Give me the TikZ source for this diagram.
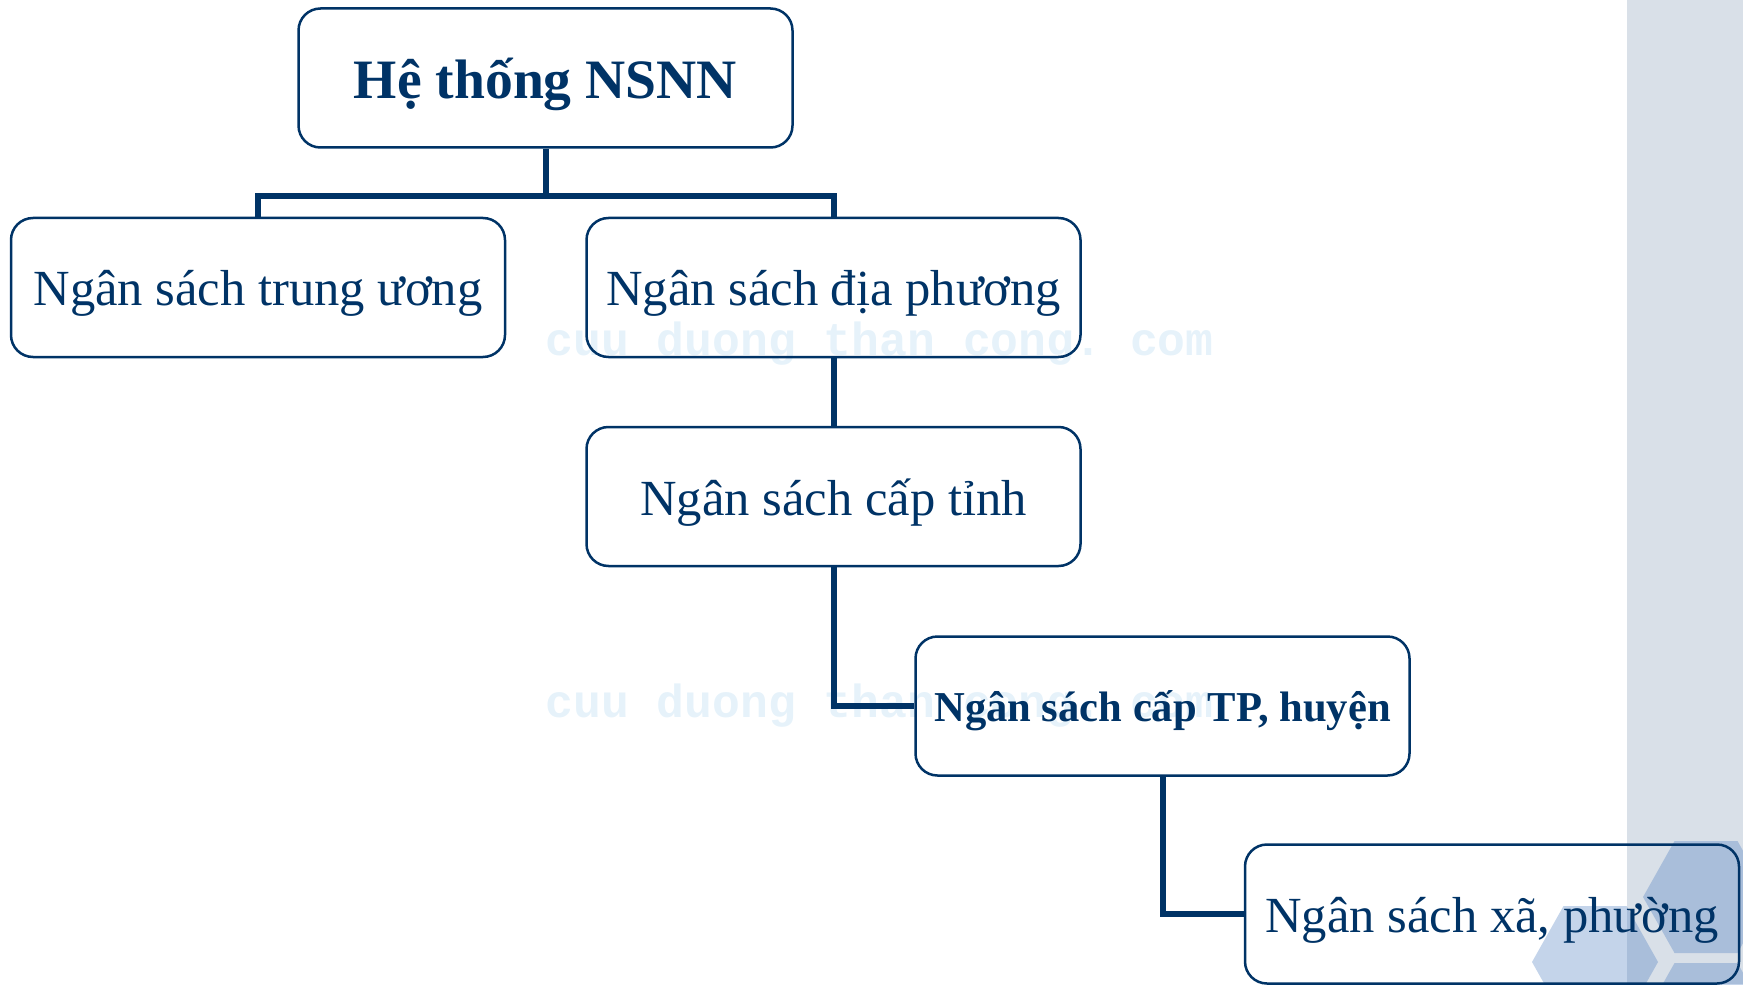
\documentclass[tikz,border=0pt]{standalone}
\usepackage{fontspec}
\setmainfont{Liberation Serif}
\setmonofont{Liberation Mono}
\definecolor{navy}{RGB}{0,51,102}
\definecolor{band}{RGB}{217,224,232}
\definecolor{hexblue}{RGB}{70,120,189}
\definecolor{wmark}{RGB}{230,242,250}
\newcommand{\myhex}[2]{%
  \fill[hexblue,fill opacity=0.32] (#1-63,#2) -- (#1-31.5,#2-56) -- (#1+31.5,#2-56) -- (#1+63,#2) -- (#1+31.5,#2+56) -- (#1-31.5,#2+56) -- cycle;}
\tikzset{
  box/.style={draw=navy,line width=1.25pt,rounded corners=11pt,minimum width=247pt,minimum height=69.5pt,inner sep=0pt,text=navy,font=\fontsize{25.3}{30}\selectfont},
  lbl/.style={text=navy,inner sep=0pt},
  conn/.style={draw=navy,line width=3pt},
  wm/.style={anchor=base west,text=wmark,inner sep=0pt,font=\ttfamily\bfseries\fontsize{23.2}{24}\selectfont}
}
\begin{document}
\begin{tikzpicture}[x=0.5pt,y=-0.5pt]
\useasboundingbox (0,0) rectangle (1743,984);
\fill[band] (1627,0) rectangle (1743,984);
\begin{scope}
\clip (0,0) rectangle (1743,984);
\myhex{1595}{962}
\myhex{1706}{897}
\myhex{1706}{1019}
\end{scope}
\node[wm] (w1) at (545,355) {cuu duong than cong. com};
\node[wm] (w2) at (545,717) {cuu duong than cong. com};
\node[box] (top) at (545.5,78) {};
\node[box] (tw) at (258,287.5) {};
\node[box] (dp) at (833.5,287.5) {};
\node[box] (tinh) at (833.5,496.5) {};
\node[box] (tp) at (1162.5,706) {};
\node[box] (xa) at (1492,914) {};
\node[lbl,font=\bfseries\fontsize{27.8}{32}\selectfont] (ttop) at ([yshift=-3pt]top.center) {Hệ thống NSNN};
\node[lbl,font=\fontsize{25.3}{30}\selectfont] (ttw) at ([yshift=-3pt]tw.center) {Ngân sách trung ương};
\node[lbl,font=\fontsize{25.3}{30}\selectfont] (tdp) at ([yshift=-3pt]dp.center) {Ngân sách địa phương};
\node[lbl,font=\fontsize{25.3}{30}\selectfont] (ttinh) at ([yshift=-3pt]tinh.center) {Ngân sách cấp tỉnh};
\node[lbl,font=\bfseries\fontsize{21.3}{26}\selectfont] (ttp) at ([yshift=-2.5pt]tp.center) {Ngân sách cấp TP, huyện};
\node[lbl,font=\fontsize{25.3}{30}\selectfont] (txa) at ([yshift=-3pt]xa.center) {Ngân sách xã, phường};
\coordinate (j) at (545.5,196);
\draw[conn] (top.south) -- (j);
\draw[conn] (tw.north) |- (j) -| (dp.north);
\draw[conn] (dp.south) -- (tinh.north);
\draw[conn] (tinh.south) |- (tp.west);
\draw[conn] (tp.south) |- (xa.west);
\end{tikzpicture}
\end{document}
